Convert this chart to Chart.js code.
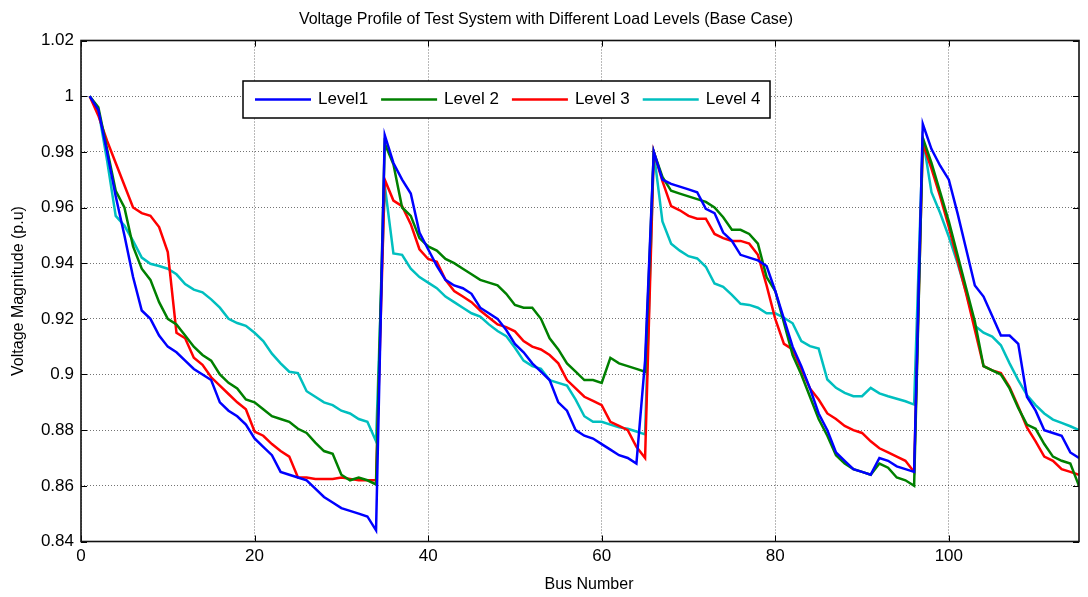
<!DOCTYPE html>
<html>
<head>
<meta charset="utf-8">
<script src="https://cdn.jsdelivr.net/npm/chart.js@4.4.0/dist/chart.umd.min.js"></script>
<style>
  html, body { margin: 0; padding: 0; background: #fff; }
  #wrap { width: 1088px; height: 597px; }
</style>
</head>
<body>
<div id="wrap"><canvas id="chart" width="1088" height="597"></canvas></div>
<script>
// voltage magnitude (p.u) per bus
const level1 = [
    1.000, 0.995, 0.980, 0.964, 0.950, 0.935, 0.923, 0.920, 0.914, 0.910,
    0.908, 0.905, 0.902, 0.900, 0.898, 0.890, 0.887, 0.885, 0.882, 0.877,
    0.874, 0.871, 0.865, 0.864, 0.863, 0.862, 0.859, 0.856, 0.854, 0.852,
    0.851, 0.850, 0.849, 0.844, 0.986, 0.976, 0.970, 0.965, 0.951, 0.945,
    0.939, 0.934, 0.932, 0.931, 0.929, 0.924, 0.922, 0.920, 0.916, 0.911,
    0.908, 0.904, 0.901, 0.898, 0.890, 0.887, 0.880, 0.878, 0.877, 0.875,
    0.873, 0.871, 0.870, 0.868, 0.905, 0.980, 0.970, 0.9685, 0.9675, 0.9665,
    0.9655, 0.9595, 0.958, 0.951, 0.948, 0.943, 0.942, 0.941, 0.939, 0.930,
    0.920, 0.910, 0.903, 0.895, 0.886, 0.880, 0.872, 0.869, 0.866, 0.865,
    0.864, 0.870, 0.869, 0.867, 0.866, 0.865, 0.990, 0.981, 0.975, 0.970,
    0.958, 0.945, 0.932, 0.928, 0.921, 0.914, 0.914, 0.911, 0.892, 0.887,
    0.880, 0.879, 0.878, 0.872, 0.870
];
const level2 = [
    1.000, 0.996, 0.981, 0.966, 0.960, 0.946, 0.938, 0.934, 0.926, 0.920,
    0.918, 0.914, 0.910, 0.907, 0.905, 0.900, 0.897, 0.895, 0.891, 0.890,
    0.8875, 0.885, 0.884, 0.883, 0.8805, 0.879, 0.8755, 0.8725, 0.8715, 0.864,
    0.862, 0.863, 0.862, 0.8605, 0.983, 0.9755, 0.960, 0.957, 0.949, 0.946,
    0.9445, 0.9415, 0.940, 0.938, 0.936, 0.934, 0.933, 0.932, 0.929, 0.925,
    0.924, 0.924, 0.920, 0.913, 0.909, 0.904, 0.901, 0.898, 0.898, 0.897,
    0.906, 0.904, 0.903, 0.902, 0.901, 0.980, 0.971, 0.966, 0.965, 0.964,
    0.963, 0.962, 0.960, 0.9565, 0.952, 0.952, 0.9505, 0.947, 0.935, 0.930,
    0.9186, 0.907, 0.900, 0.892, 0.884, 0.878, 0.871, 0.868, 0.866, 0.865,
    0.864, 0.868, 0.8665, 0.863, 0.862, 0.860, 0.985, 0.976, 0.9655, 0.955,
    0.943, 0.931, 0.919, 0.903, 0.9015, 0.900, 0.895, 0.888, 0.882, 0.8805,
    0.875, 0.8705, 0.869, 0.868, 0.860
];
const level3 = [
    1.000, 0.993, 0.984, 0.976, 0.968, 0.960, 0.958, 0.957, 0.953, 0.944,
    0.915, 0.913, 0.906, 0.9035, 0.899, 0.896, 0.893, 0.890, 0.8875, 0.8795,
    0.878, 0.875, 0.8725, 0.8705, 0.863, 0.863, 0.8625, 0.8625, 0.8625, 0.863,
    0.8625, 0.862, 0.862, 0.862, 0.970, 0.9625, 0.9605, 0.954, 0.945, 0.9415,
    0.9405, 0.934, 0.930, 0.928, 0.926, 0.923, 0.9205, 0.918, 0.917, 0.9155,
    0.912, 0.910, 0.909, 0.907, 0.904, 0.898, 0.895, 0.892, 0.8905, 0.889,
    0.883, 0.8815, 0.880, 0.874, 0.870, 0.980, 0.9695, 0.9605, 0.959, 0.957,
    0.956, 0.956, 0.9505, 0.949, 0.948, 0.948, 0.947, 0.943, 0.932, 0.920,
    0.911, 0.909, 0.902, 0.895, 0.891, 0.886, 0.884, 0.8815, 0.880, 0.879,
    0.876, 0.8735, 0.872, 0.8705, 0.869, 0.865, 0.983, 0.974, 0.964, 0.953,
    0.941, 0.929, 0.916, 0.903, 0.9015, 0.9005, 0.8955, 0.8885, 0.881, 0.876,
    0.8705, 0.869, 0.866, 0.865, 0.864
];
const level4 = [
    1.000, 0.995, 0.977, 0.957, 0.9535, 0.948, 0.942, 0.9398, 0.939, 0.938,
    0.936, 0.9325, 0.9305, 0.9295, 0.927, 0.924, 0.920, 0.9185, 0.9175, 0.915,
    0.912, 0.9075, 0.904, 0.901, 0.9005, 0.894, 0.892, 0.890, 0.889, 0.887,
    0.886, 0.884, 0.883, 0.876, 0.968, 0.9435, 0.943, 0.938, 0.935, 0.933,
    0.931, 0.928, 0.926, 0.924, 0.922, 0.9208, 0.918, 0.9156, 0.9138, 0.9096,
    0.905, 0.903, 0.902, 0.898, 0.897, 0.896, 0.891, 0.885, 0.883, 0.883,
    0.882, 0.881, 0.8805, 0.8795, 0.8785, 0.980, 0.955, 0.947, 0.9445, 0.9425,
    0.9417, 0.9387, 0.9327, 0.9315, 0.9286, 0.9254, 0.925, 0.924, 0.922, 0.922,
    0.9204, 0.9184, 0.912, 0.9102, 0.9093, 0.8982, 0.8952, 0.8934, 0.8922, 0.8922,
    0.8952, 0.8932, 0.8922, 0.8913, 0.8904, 0.8892, 0.985, 0.9655, 0.958, 0.9495,
    0.940, 0.9295, 0.9175, 0.915, 0.9136, 0.9105, 0.904, 0.898, 0.8926, 0.889,
    0.886, 0.8838, 0.8826, 0.8814, 0.880
];

const seriesNames = ["Level1", "Level 2", "Level 3", "Level 4"];
const xTicks = [0, 20, 40, 60, 80, 100];
const yTicks = [0.84, 0.86, 0.88, 0.9, 0.92, 0.94, 0.96, 0.98, 1, 1.02];

const titleText = "Voltage Profile of Test System with Different Load Levels (Base Case)";
const xLabel = "Bus Number";
const yLabel = "Voltage Magnitude (p.u)";
const FONT = "'Liberation Sans', Arial, Helvetica, sans-serif";

const colors = ["#0000ff", "#008000", "#ff0000", "#00bfbf"];
const buses = level1.map((_, i) => i + 1);

const toPoints = (vals) => vals.map((v, i) => ({ x: buses[i], y: v }));

// title and x label, placed where the figure has them
const textPlugin = {
    id: "figText",
    afterDraw(chart) {
        const { ctx } = chart;
        ctx.save();
        ctx.fillStyle = "#000";
        ctx.textAlign = "center";
        ctx.textBaseline = "middle";
        ctx.font = `16px ${FONT}`;
        ctx.fillText(titleText, 546, 20);
        ctx.fillText(xLabel, 589, 585);
        ctx.restore();
    }
};

// box around the axes with inward tick marks on all four sides
const framePlugin = {
    id: "frame",
    afterDatasetsDraw(chart) {
        const { ctx, chartArea: a, scales: { x, y } } = chart;
        const len = 6;
        ctx.save();
        ctx.strokeStyle = "#000";
        ctx.lineWidth = 1;
        ctx.beginPath();
        x.ticks.forEach((t) => {
            const px = Math.round(x.getPixelForValue(t.value)) + 0.5;
            ctx.moveTo(px, a.bottom);
            ctx.lineTo(px, a.bottom - len);
            ctx.moveTo(px, a.top);
            ctx.lineTo(px, a.top + len);
        });
        y.ticks.forEach((t) => {
            const py = Math.round(y.getPixelForValue(t.value)) + 0.5;
            ctx.moveTo(a.left, py);
            ctx.lineTo(a.left + len, py);
            ctx.moveTo(a.right, py);
            ctx.lineTo(a.right - len, py);
        });
        ctx.stroke();
        ctx.lineWidth = 1.6;
        ctx.strokeStyle = "#111";
        ctx.strokeRect(a.left, a.top, a.right - a.left, a.bottom - a.top);
        ctx.restore();
    }
};

// horizontal legend box inside the axes
const legendPlugin = {
    id: "boxLegend",
    afterDraw(chart) {
        const { ctx } = chart;
        const box = { left: 243, top: 81, right: 770, bottom: 118 };
        const midY = (box.top + box.bottom) / 2;
        ctx.save();
        ctx.fillStyle = "#fff";
        ctx.fillRect(box.left, box.top, box.right - box.left, box.bottom - box.top);
        ctx.lineWidth = 1.5;
        ctx.strokeStyle = "#000";
        ctx.strokeRect(box.left, box.top, box.right - box.left, box.bottom - box.top);
        ctx.font = `17px ${FONT}`;
        ctx.textBaseline = "middle";
        ctx.textAlign = "left";
        let x0 = box.left + 12;
        chart.data.datasets.forEach((ds) => {
            ctx.strokeStyle = ds.borderColor;
            ctx.lineWidth = 2.5;
            ctx.beginPath();
            ctx.moveTo(x0, midY);
            ctx.lineTo(x0 + 56, midY);
            ctx.stroke();
            ctx.fillStyle = "#000";
            ctx.fillText(ds.label, x0 + 63, midY);
            x0 += 63 + ctx.measureText(ds.label).width + 13;
        });
        ctx.restore();
    }
};

const datasets = [level1, level2, level3, level4].map((vals, i) => ({
    label: seriesNames[i],
    data: toPoints(vals),
    borderColor: colors[i],
    backgroundColor: colors[i],
    borderWidth: 2.5,
    pointRadius: 0,
    tension: 0,
    fill: false,
}));

new Chart(document.getElementById("chart"), {
    type: "line",
    data: { datasets },
    options: {
        responsive: false,
        animation: false,
        events: [],
        layout: { padding: { top: 40.5, right: 9, left: 0, bottom: 0 } },
        plugins: {
            legend: { display: false },
            title: { display: false },
            tooltip: { enabled: false },
        },
        scales: {
            x: {
                type: "linear",
                min: 0,
                max: 115,
                afterBuildTicks: (s) => { s.ticks = xTicks.map((v) => ({ value: v })); },
                afterFit: (s) => { s.height = 55.5; },
                grid: { color: "rgba(0, 0, 0, 0.55)", lineWidth: 1, drawTicks: false },
                border: { display: false, dash: [1, 2] },
                ticks: {
                    color: "#000",
                    font: { family: FONT, size: 17 },
                    padding: 5,
                    maxRotation: 0,
                    callback: (v) => String(v),
                },
            },
            y: {
                type: "linear",
                min: 0.84,
                max: 1.02,
                afterBuildTicks: (s) => { s.ticks = yTicks.map((v) => ({ value: v })); },
                afterFit: (s) => { s.width = 81; },
                grid: { color: "rgba(0, 0, 0, 0.55)", lineWidth: 1, drawTicks: false },
                border: { display: false, dash: [1, 2] },
                ticks: {
                    color: "#000",
                    font: { family: FONT, size: 17 },
                    padding: 7,
                    callback: (v) => String(Number(v.toFixed(2))),
                },
                title: {
                    display: true,
                    text: yLabel,
                    color: "#000",
                    font: { family: FONT, size: 16 },
                    padding: { top: 9, bottom: 0 },
                },
            },
        },
    },
    plugins: [textPlugin, framePlugin, legendPlugin],
});
</script>
</body>
</html>
